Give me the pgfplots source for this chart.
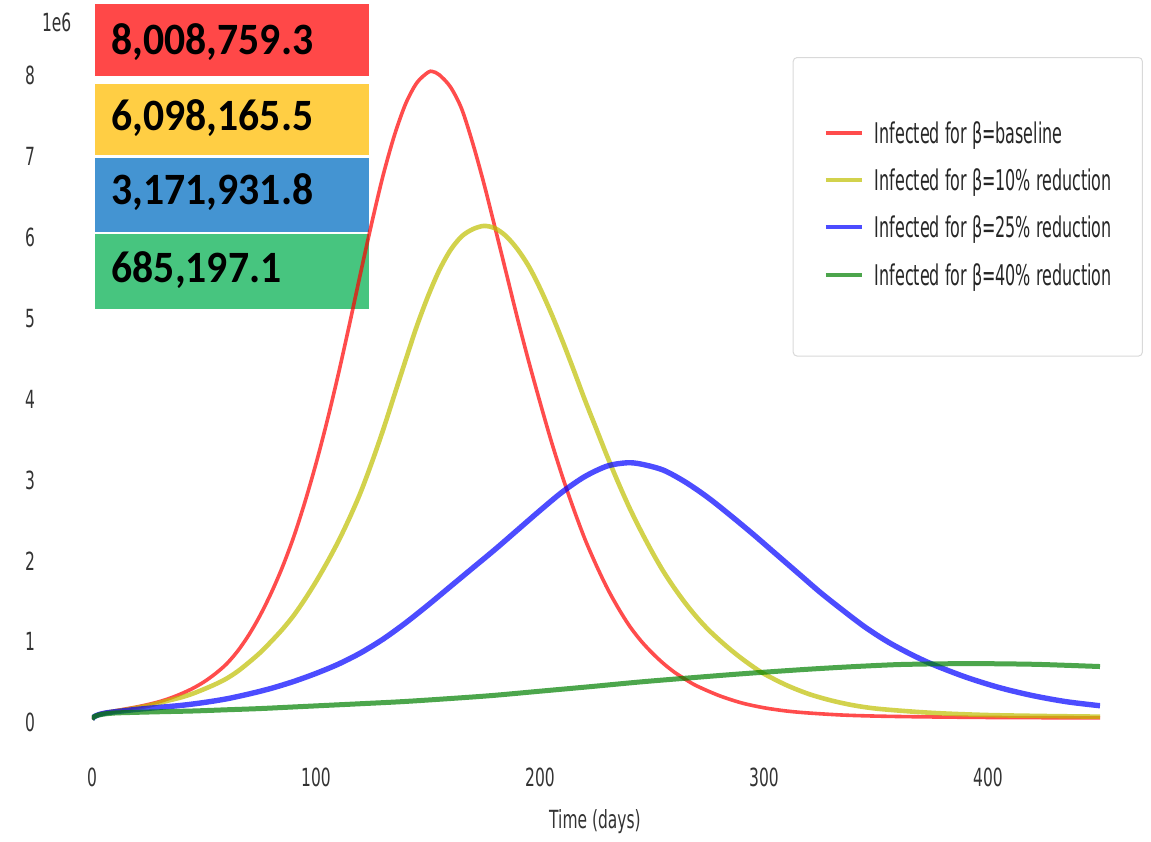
\documentclass[border=0pt]{standalone}
\usepackage{pgfplots}
\pgfplotsset{compat=1.18}
\usepackage{fontspec}
\setmainfont{DejaVu Sans}[FakeStretch=0.62]
\newfontfamily\legfont{DejaVu Sans}[FakeStretch=0.56]
\newfontfamily\numfont{Carlito}[FakeStretch=0.93]
\definecolor{boxred}{RGB}{255,72,72}
\definecolor{boxyellow}{RGB}{255,206,68}
\definecolor{boxblue}{RGB}{68,148,210}
\definecolor{boxgreen}{RGB}{71,197,127}
\definecolor{cy}{RGB}{191,191,0}
\definecolor{cg}{RGB}{0,128,0}
\begin{document}
\begin{tikzpicture}[x=1pt,y=1pt]
\path[use as bounding box] (0,0) rectangle (1151,-842);
\fill[boxred] (95,-4) rectangle (369.3,-75.7);
\fill[boxyellow] (95,-83.7) rectangle (369.3,-155);
\fill[boxblue] (95,-157.7) rectangle (369.3,-231.7);
\fill[boxgreen] (95,-234.3) rectangle (369.3,-309);
\begin{scope}[every node/.style={anchor=base west, inner sep=0pt, font=\numfont\bfseries\fontsize{44.8}{50}\selectfont}]
\node at (111.5,-55) {8,008,759.3};
\node at (111.5,-131) {6,098,165.5};
\node at (111.5,-205) {3,171,931.8};
\node at (111.5,-283) {685,197.1};
\end{scope}
\node[font=\fontsize{25}{30}\selectfont, text=black!80, inner sep=0pt] at (56.7,-22.5) {1e6};
\begin{axis}[
  at={(92pt,-759.5pt)}, anchor=south west,
  scale only axis, width=1008pt, height=727.6pt,
  xmin=0, xmax=450, ymin=-0.5, ymax=8.5,
  axis line style={draw=none}, major tick length=0pt, tick style={draw=none},
  xtick={0,100,200,300,400}, ytick={0,1,2,3,4,5,6,7,8},
  /pgf/number format/assume math mode=true,
  ticklabel style={font=\fontsize{25}{30}\selectfont, text=black!80},
  xticklabel style={anchor=center, yshift=-17.5pt},
  yticklabel style={anchor=center, xshift=-62pt, yshift=-3.5pt},
  xlabel={Time (days)},
  xlabel style={at={(axis description cs:0.499,0)}, anchor=center, yshift=-62.5pt, font=\fontsize{25}{30}\selectfont, text=black!80},
  legend style={at={(0.6951,0.9655)}, anchor=north west, draw=black!15, line width=1pt, rounded corners=4pt,
    inner xsep=30.6pt, inner ysep=64pt, font=\legfont\fontsize{28.5}{34}\selectfont, text=black!85,
    row sep=18.2pt, column sep=11pt,
    nodes={inner sep=0pt, text height=22pt, text depth=7pt},
    cells={anchor=base west}},
  legend image code/.code={\draw[#1, line width=4pt] (0pt,10.6pt) -- (36pt,10.6pt);},
  every axis plot/.append style={draw opacity=0.7, smooth, no marks},
]
\addplot[red, line width=3.6pt] coordinates {(0,0) (1,0.03) (3,0.06) (6,0.08) (10,0.1) (15,0.125) (20,0.15) (25,0.18) (30,0.215) (35,0.26) (40,0.315) (45,0.38) (50,0.46) (55,0.56) (60,0.68) (65,0.84) (70,1.04) (75,1.28) (80,1.56) (85,1.88) (90,2.25) (95,2.68) (100,3.16) (105,3.69) (110,4.27) (115,4.89) (120,5.53) (125,6.15) (130,6.73) (135,7.22) (140,7.61) (145,7.87) (150,8.00) (152,8.01) (155,7.97) (160,7.82) (165,7.55) (170,7.12) (175,6.62) (180,6.07) (185,5.51) (190,4.95) (195,4.42) (200,3.92) (205,3.44) (210,3.00) (215,2.60) (220,2.23) (225,1.91) (230,1.62) (235,1.37) (240,1.15) (245,0.97) (250,0.82) (255,0.69) (260,0.58) (265,0.49) (270,0.41) (280,0.29) (290,0.2) (300,0.14) (310,0.1) (320,0.075) (335,0.05) (350,0.037) (370,0.028) (400,0.02) (425,0.017) (450,0.015)};
\addlegendentry{Infected for β=baseline}
\addplot[cy, line width=4.6pt] coordinates {(0,0) (1,0.03) (3,0.055) (6,0.075) (10,0.095) (15,0.115) (20,0.14) (25,0.165) (30,0.2) (35,0.235) (40,0.27) (45,0.315) (50,0.37) (55,0.43) (60,0.5) (65,0.59) (70,0.7) (75,0.82) (80,0.96) (85,1.11) (90,1.28) (95,1.48) (100,1.70) (105,1.94) (110,2.20) (115,2.49) (120,2.81) (125,3.18) (130,3.58) (135,4.01) (140,4.44) (145,4.86) (150,5.23) (155,5.55) (160,5.80) (165,5.97) (170,6.06) (175,6.10) (180,6.07) (185,5.97) (190,5.81) (195,5.60) (200,5.33) (205,5.02) (210,4.68) (215,4.32) (220,3.95) (225,3.6) (230,3.25) (235,2.92) (240,2.61) (245,2.33) (250,2.07) (255,1.83) (260,1.62) (265,1.43) (270,1.26) (275,1.11) (280,0.98) (285,0.86) (290,0.75) (295,0.65) (300,0.56) (310,0.42) (320,0.31) (330,0.23) (340,0.17) (350,0.13) (365,0.095) (380,0.07) (400,0.05) (425,0.038) (450,0.03)};
\addlegendentry{Infected for β=10\% reduction}
\addplot[blue, line width=5.4pt] coordinates {(0,0) (1,0.03) (3,0.055) (6,0.075) (10,0.09) (15,0.105) (20,0.12) (30,0.145) (40,0.17) (50,0.205) (60,0.25) (70,0.31) (80,0.38) (90,0.465) (100,0.565) (110,0.68) (120,0.82) (130,0.99) (140,1.19) (150,1.41) (160,1.64) (170,1.87) (180,2.1) (190,2.34) (200,2.58) (210,2.81) (220,3.0) (230,3.13) (238.7,3.17) (245,3.155) (255,3.08) (265,2.93) (275,2.74) (285,2.52) (295,2.29) (305,2.05) (315,1.81) (325,1.57) (335,1.35) (345,1.14) (355,0.96) (365,0.81) (375,0.68) (390,0.52) (405,0.39) (420,0.29) (435,0.215) (450,0.165)};
\addlegendentry{Infected for β=25\% reduction}
\addplot[cg, line width=5pt] coordinates {(0,0) (1,0.03) (3,0.05) (6,0.065) (10,0.075) (15,0.08) (29,0.09) (45,0.1) (60,0.115) (75,0.13) (90,0.15) (105,0.17) (120,0.19) (138,0.215) (155,0.245) (178,0.29) (200,0.345) (222,0.4) (245,0.46) (267,0.51) (290,0.56) (316,0.61) (334,0.64) (348,0.66) (361,0.675) (380,0.684) (400,0.685) (420,0.678) (435,0.665) (450,0.65)};
\addlegendentry{Infected for β=40\% reduction}
\end{axis}
\end{tikzpicture}
\end{document}
